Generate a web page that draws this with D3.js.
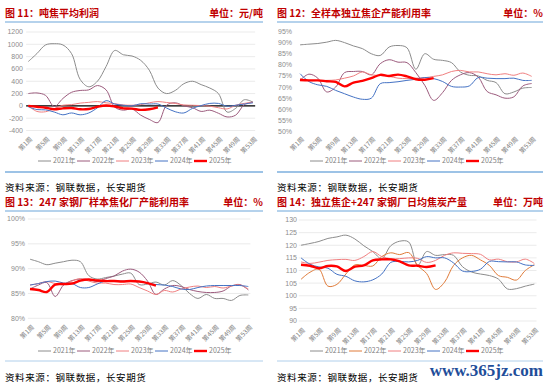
<!DOCTYPE html>
<html>
<head>
<meta charset="utf-8">
<script src="https://cdn.jsdelivr.net/npm/d3@7"></script>
<style>
  body { margin: 0; background: #fff; }
  svg { display: block; font-family: "Noto Sans CJK SC", "Noto Sans", sans-serif; }
</style>
</head>
<body>
<script>
// weeks sampled every two weeks, tick labels every four
var weeks = [1,3,5,7,9,11,13,15,17,19,21,23,25,27,29,31,33,35,37,39,41,43,45,47,49,51,53];
var tickWeeks = [1,5,9,13,17,21,25,29,33,37,41,45,49,53];
var years = ["2021年", "2022年", "2023年", "2024年", "2025年"];

// 图11 吨焦平均利润 (元/吨)
var profit2021 = [720,850,990,1010,990,850,430,310,400,640,900,830,810,740,580,290,200,250,360,400,345,290,200,-100,-40,100,60];
var profit2022 = [200,210,170,-10,120,220,250,260,330,260,-20,-70,-50,-150,-220,-270,10,50,0,-30,-90,-70,-120,-180,-150,20,60];
var profit2023 = [0,-90,-95,-45,10,20,45,57,70,50,35,15,10,20,50,70,55,40,15,10,5,-5,-30,-50,10,40,60];
var profit2024 = [-15,-60,-65,-100,-145,-115,-145,-115,-30,85,30,10,0,35,30,30,-35,-95,-115,-40,5,40,40,-5,10,30,50];
var profit2025 = [0,-15,-30,-55,-40,-35,-55,-50,-15,5,-10,-40,-45,-65,-55,-25];

// 图12 全样本独立焦企产能利用率 (%)
var indep2021 = [89,89.3,89.6,90.2,91,90,88.5,87.3,85,84.2,88,88.7,87.7,78,85,82.5,82,81,76.8,75.3,75,73,72,67,67.8,69.5,69.8];
var indep2022 = [73,75.8,74,67.8,70,76.5,77,77,75.5,80.5,82.3,81.2,81,76.5,70.8,64,67.5,73,75.5,76.5,74.5,68,66.5,65,65.6,70.5,71.6];
var indep2023 = [73.8,72.8,73,73,73.2,74,75,76.8,75.5,75.2,74.8,74,73.8,74,74.2,74.8,75.5,77,77.5,76.8,76.8,76,75.5,76,75.3,76.3,74.8];
var indep2024 = [76,72.5,71,70.3,68.5,67,65.5,64.5,65,71.5,72,72.4,73,73.5,74.3,73.8,72.5,70.3,70,70.5,74.3,74,73.8,73.8,74,73,73];
var indep2025 = [73.2,73,73,72.6,72.3,70.3,72,72.8,74,75.5,75,75.6,74.8,73.5,73.3,74];

// 图13 247家钢厂样本焦化厂产能利用率 (%)
var mill2021 = [91.9,91.4,90.8,91.1,91.4,91.7,91.4,88.6,87.9,88.2,88.5,88.9,89.1,86.8,86.9,87.3,86.7,87.6,86.6,85,84,84.8,84,84,83.6,84.6,84.7];
var mill2022 = [85.9,86.7,87.2,84.4,86.7,87.6,87.9,87.8,87.4,88,88.5,89.5,89.9,89.3,87.5,84.8,85.9,86.6,86.4,85.8,85.4,85.2,85.2,85.5,86.5,86.8,85.7];
var mill2023 = [86.7,87,87.4,87,86.8,87.5,88,87.5,87.1,87.1,86.8,86.8,86.9,86.2,85.5,84.8,85.6,85.3,85.9,86.3,86.5,86.2,86.4,86.1,86.5,86.7,85.9];
var mill2024 = [86.7,87,87.4,87.5,87.1,87,86.2,86.2,86.9,87.5,87.5,87.5,87.5,87.4,87.1,86.8,86.7,86.4,85.9,85.8,86.2,86.5,86.6,86.6,86.6,86.6,86.4];
var mill2025 = [85.9,85.7,85.3,86.8,86.9,87,87.6,87.8,87.6,87.5,87.5,87.4,87.5,87.4,87.1,86.6];

// 图14 独立焦企+247家钢厂日均焦炭产量 (万吨)
var output2021 = [120,120.7,121.5,122.7,123.3,124,122.5,119.8,117.5,114.7,119.8,121.6,121.3,112,117.5,116,116.3,116,111.5,109.4,108.6,108,106.6,102.7,102.8,103.8,104.6];
var output2022 = [106.5,109.3,110.5,103.8,104.5,108.6,112.2,112,111.8,115.5,117,116.3,117.1,112,108.8,102.5,105.4,112,115,116,114.2,112,108,107.3,106.2,110,112.3];
var output2023 = [113.4,112.8,113.3,114,114.3,114.4,114,115.5,117.5,115.5,114.7,114.7,115,114.8,113.2,114,116,117,116.8,116.7,116.4,114.2,114.5,113.5,113.4,114.5,112.8];
var output2024 = [115,112.5,111.4,110.9,108.5,107.7,105.9,105.5,106.3,108.6,113.2,113.6,113.4,114,115.5,115,115,113,109.8,109.6,110.5,113.6,113.5,113.4,113.4,112.2,112];
var output2025 = [112.3,111.9,110.9,111.8,111.6,109.8,111.5,112,114,114.4,114.4,113.6,112,111.9,111.4,112];

var colors = ["#8c8c8c", "#9c5b7d", "#f07f80", "#4472c4", "#ff0000"];

var svg = d3.select("body").append("svg")
    .attr("width", 550)
    .attr("height", 385);

function drawPanel(p) {
    var g = svg.append("g");

    // title row
    g.append("text")
        .attr("x", p.left).attr("y", p.titleY)
        .attr("fill", "#c00000").attr("font-size", 10).attr("font-weight", "bold")
        .text(p.title);
    g.append("text")
        .attr("x", p.right).attr("y", p.titleY)
        .attr("text-anchor", "end")
        .attr("fill", "#c00000").attr("font-size", 10).attr("font-weight", "bold")
        .text(p.unit);
    g.append("line")
        .attr("x1", p.left).attr("x2", p.right)
        .attr("y1", p.titleY + 5).attr("y2", p.titleY + 5)
        .attr("stroke", "#9dc3e6").attr("stroke-width", 1.5);

    var x = d3.scaleLinear().domain([1, 53]).range(p.xRange);
    var y = d3.scaleLinear().domain(p.yDomain).range(p.yRange);

    // gridlines
    if (p.grid) {
        g.selectAll(".grid").data(p.yTicks).enter().append("line")
            .attr("x1", x(0.5)).attr("x2", x(53.5))
            .attr("y1", d => y(d)).attr("y2", d => y(d))
            .attr("stroke", "#e6e6e6").attr("stroke-width", 0.8);
    }

    // y tick labels
    g.selectAll(".ylab").data(p.yTicks).enter().append("text")
        .attr("x", p.yLabelX).attr("y", d => y(d))
        .attr("dy", "0.35em")
        .attr("text-anchor", "end")
        .attr("fill", "#8c8c8c").attr("font-size", 7)
        .attr("font-family", "Liberation Sans, sans-serif")
        .text(p.fmt);

    // x tick labels, rotated
    g.selectAll(".xlab").data(tickWeeks).enter().append("text")
        .attr("transform", d => "translate(" + (x(d) + 3) + "," + p.xLabelY + ") rotate(-45)")
        .attr("text-anchor", "end")
        .attr("dy", "0.35em")
        .attr("fill", "#7f7f7f").attr("font-size", 6.5)
        .text(d => "第" + d + "周");

    if (p.zero) {
        g.append("line")
            .attr("x1", x(0.5)).attr("x2", x(53.5))
            .attr("y1", y(0)).attr("y2", y(0))
            .attr("stroke", "#000").attr("stroke-width", 1.3);
    }

    var line = d3.line()
        .x((d, i) => x(weeks[i]))
        .y(d => y(d))
        .curve(d3.curveCatmullRom.alpha(0.5));

    p.series.forEach(function (s, i) {
        g.append("path")
            .datum(s)
            .attr("fill", "none")
            .attr("stroke", p.colors[i])
            .attr("stroke-width", i == 4 ? 2.4 : 1)
            .attr("d", line);
    });

    // legend
    years.forEach(function (name, i) {
        var lx = p.left + 33 + i * 39;
        g.append("line")
            .attr("x1", lx).attr("x2", lx + 13)
            .attr("y1", p.legendY).attr("y2", p.legendY)
            .attr("stroke", p.colors[i]).attr("stroke-width", i == 4 ? 2.4 : 1);
        g.append("text")
            .attr("x", lx + 15).attr("y", p.legendY)
            .attr("dy", "0.35em")
            .attr("fill", "#7f7f7f").attr("font-size", 7)
            .text(name);
    });

    g.append("line")
        .attr("x1", p.left).attr("x2", p.right)
        .attr("y1", p.bottomY).attr("y2", p.bottomY)
        .attr("stroke", "#9dc3e6").attr("stroke-width", p.bottomW);

    g.append("text")
        .attr("x", p.left).attr("y", p.sourceY)
        .attr("fill", "#000").attr("font-size", 9.5)
        .attr("letter-spacing", 0.6)
        .text("资料来源：钢联数据，长安期货");
}

drawPanel({
    left: 5, right: 263, titleY: 17,
    title: "图 11：吨焦平均利润", unit: "单位：元/吨",
    xRange: [28.3, 253], yDomain: [-400, 1200], yRange: [130.5, 32],
    yTicks: [-400,-200,0,200,400,600,800,1000,1200], fmt: d => d, yLabelX: 23,
    grid: true, zero: true, xLabelY: 138, legendY: 161, bottomY: 172, bottomW: 2, sourceY: 191,
    colors: colors,
    series: [profit2021, profit2022, profit2023, profit2024, profit2025]
});

drawPanel({
    left: 277, right: 543, titleY: 17,
    title: "图 12：全样本独立焦企产能利用率", unit: "单位：%",
    xRange: [300, 531.7], yDomain: [50, 95], yRange: [131.5, 31.5],
    yTicks: [50,55,60,65,70,75,80,85,90,95], fmt: d => d + "%", yLabelX: 292,
    grid: false, zero: false, xLabelY: 138, legendY: 161, bottomY: 172, bottomW: 2, sourceY: 191,
    colors: colors,
    series: [indep2021, indep2022, indep2023, indep2024, indep2025]
});

drawPanel({
    left: 5, right: 263, titleY: 206,
    title: "图 13：247 家钢厂样本焦化厂产能利用率", unit: "单位：%",
    xRange: [30, 248.3], yDomain: [80, 100], yRange: [318.3, 219],
    yTicks: [80,85,90,95,100], fmt: d => d + "%", yLabelX: 25,
    grid: true, zero: false, xLabelY: 326, legendY: 351, bottomY: 361, bottomW: 0.8, sourceY: 381,
    colors: colors,
    series: [mill2021, mill2022, mill2023, mill2024, mill2025]
});

drawPanel({
    left: 277, right: 543, titleY: 206,
    title: "图 14：独立焦企+247 家钢厂日均焦炭产量", unit: "单位：万吨",
    xRange: [301, 534.3], yDomain: [90, 130], yRange: [321, 220],
    yTicks: [90,95,100,105,110,115,120,125,130], fmt: d => d, yLabelX: 297,
    grid: true, zero: false, xLabelY: 329, legendY: 351, bottomY: 361, bottomW: 0.8, sourceY: 381,
    colors: ["#8c8c8c", "#e07b39", "#f07f80", "#4472c4", "#ff0000"],
    series: [output2021, output2022, output2023, output2024, output2025]
});

// site watermark, bottom right
svg.append("text")
    .attr("x", 543).attr("y", 376)
    .attr("text-anchor", "end")
    .attr("fill", "#1f4e9a").attr("font-size", 17).attr("font-weight", "bold")
    .attr("font-family", "Liberation Serif, serif")
    .text("www.365jz.com");
</script>
</body>
</html>
